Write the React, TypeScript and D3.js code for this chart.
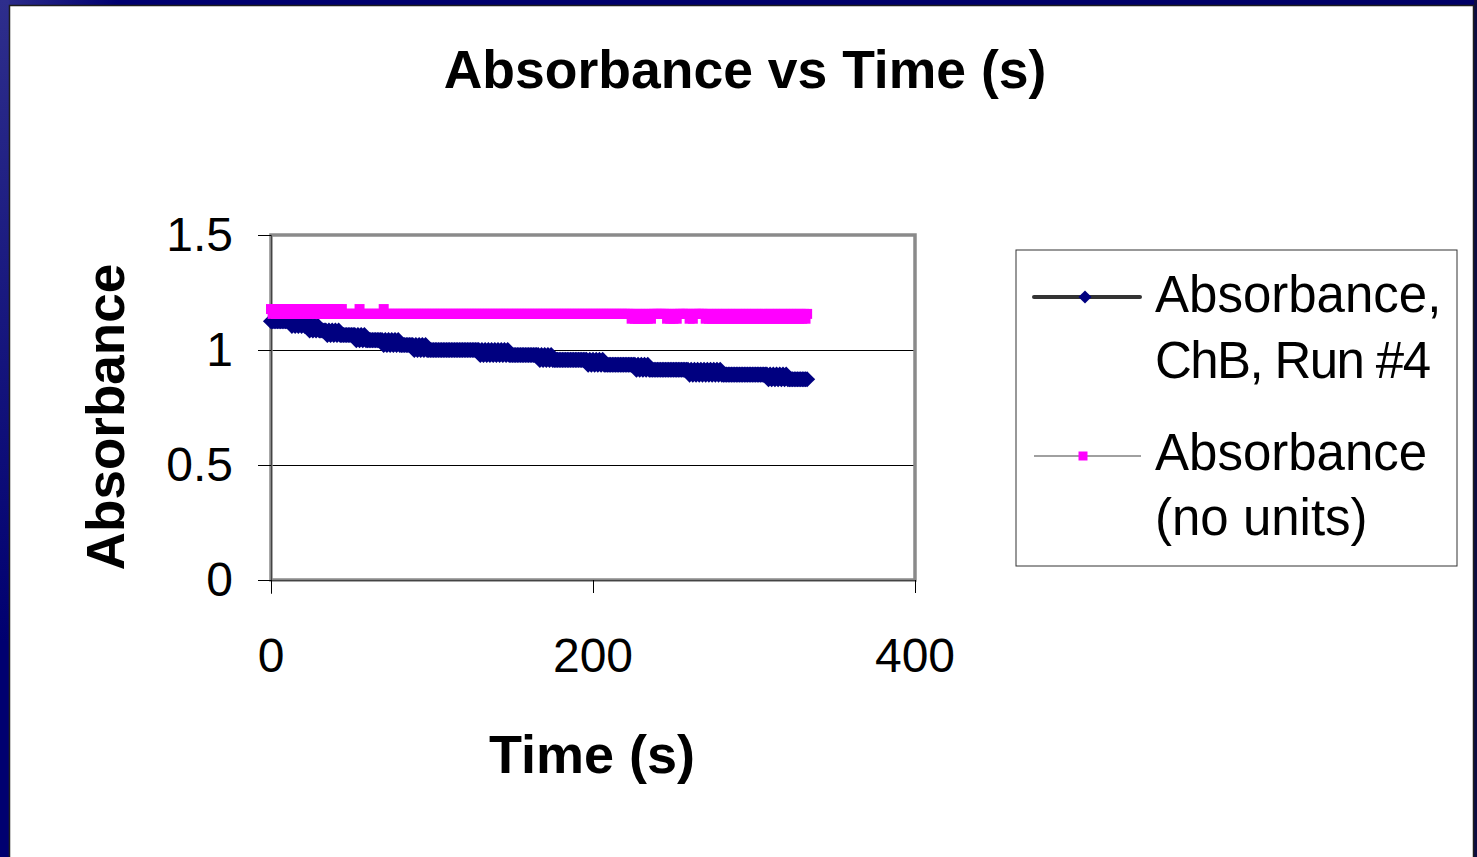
import React from 'react';
import * as d3 from 'd3';

const TITLE = 'Absorbance vs Time (s)';
const X_TITLE = 'Time (s)';
const Y_TITLE = 'Absorbance';
const X_TICKS = [0, 200, 400];
const X_TICK_LABELS = ['0', '200', '400'];
const Y_TICKS = [0, 0.5, 1, 1.5];
const Y_TICK_LABELS = ['0', '0.5', '1', '1.5'];
const GRID_VALUES = [0.5, 1];
const SERIES_1_NAME = ['Absorbance,', 'ChB, Run #4'];
const SERIES_2_NAME = ['Absorbance', '(no units)'];

// time of each reading, seconds
const timeS = [
  0, 1, 2, 3, 4, 5, 6, 7, 8, 9,
  10, 11, 12, 13, 14, 15, 16, 17, 18, 19,
  20, 21, 22, 23, 24, 25, 26, 27, 28, 29,
  30, 31, 32, 33, 34, 35, 36, 37, 38, 39,
  40, 41, 42, 43, 44, 45, 46, 47, 48, 49,
  50, 51, 52, 53, 54, 55, 56, 57, 58, 59,
  60, 61, 62, 63, 64, 65, 66, 67, 68, 69,
  70, 71, 72, 73, 74, 75, 76, 77, 78, 79,
  80, 81, 82, 83, 84, 85, 86, 87, 88, 89,
  90, 91, 92, 93, 94, 95, 96, 97, 98, 99,
  100, 101, 102, 103, 104, 105, 106, 107, 108, 109,
  110, 111, 112, 113, 114, 115, 116, 117, 118, 119,
  120, 121, 122, 123, 124, 125, 126, 127, 128, 129,
  130, 131, 132, 133, 134, 135, 136, 137, 138, 139,
  140, 141, 142, 143, 144, 145, 146, 147, 148, 149,
  150, 151, 152, 153, 154, 155, 156, 157, 158, 159,
  160, 161, 162, 163, 164, 165, 166, 167, 168, 169,
  170, 171, 172, 173, 174, 175, 176, 177, 178, 179,
  180, 181, 182, 183, 184, 185, 186, 187, 188, 189,
  190, 191, 192, 193, 194, 195, 196, 197, 198, 199,
  200, 201, 202, 203, 204, 205, 206, 207, 208, 209,
  210, 211, 212, 213, 214, 215, 216, 217, 218, 219,
  220, 221, 222, 223, 224, 225, 226, 227, 228, 229,
  230, 231, 232, 233, 234, 235, 236, 237, 238, 239,
  240, 241, 242, 243, 244, 245, 246, 247, 248, 249,
  250, 251, 252, 253, 254, 255, 256, 257, 258, 259,
  260, 261, 262, 263, 264, 265, 266, 267, 268, 269,
  270, 271, 272, 273, 274, 275, 276, 277, 278, 279,
  280, 281, 282, 283, 284, 285, 286, 287, 288, 289,
  290, 291, 292, 293, 294, 295, 296, 297, 298, 299,
  300, 301, 302, 303, 304, 305, 306, 307, 308, 309,
  310, 311, 312, 313, 314, 315, 316, 317, 318, 319,
  320, 321, 322, 323, 324, 325, 326, 327, 328, 329,
  330, 331, 332, 333,
];

const absorbanceChB = [
  1.125, 1.125, 1.125, 1.125, 1.125, 1.125, 1.125, 1.125, 1.125, 1.125,
  1.125, 1.125, 1.125, 1.105, 1.125, 1.105, 1.125, 1.105, 1.125, 1.105,
  1.125, 1.105, 1.125, 1.105, 1.085, 1.105, 1.085, 1.105, 1.085, 1.105,
  1.085, 1.085, 1.085, 1.085, 1.085, 1.065, 1.085, 1.065, 1.085, 1.065,
  1.085, 1.065, 1.085, 1.065, 1.065, 1.065, 1.065, 1.065, 1.065, 1.065,
  1.065, 1.065, 1.065, 1.043, 1.065, 1.043, 1.065, 1.043, 1.065, 1.043,
  1.043, 1.043, 1.043, 1.043, 1.043, 1.043, 1.043, 1.043, 1.043, 1.043,
  1.022, 1.043, 1.022, 1.043, 1.022, 1.043, 1.022, 1.043, 1.022, 1.043,
  1.022, 1.022, 1.022, 1.022, 1.022, 1.022, 1.022, 1.022, 1.022, 1.0,
  1.022, 1.0, 1.022, 1.0, 1.022, 1.0, 1.022, 1.0, 1.0, 1.0,
  1.0, 1.0, 1.0, 1.0, 1.0, 1.0, 1.0, 1.0, 1.0, 1.0,
  1.0, 1.0, 1.0, 1.0, 1.0, 1.0, 1.0, 1.0, 1.0, 1.0,
  1.0, 1.0, 1.0, 1.0, 1.0, 1.0, 1.0, 1.0, 1.0, 1.0,
  0.978, 1.0, 0.978, 1.0, 0.978, 1.0, 0.978, 1.0, 0.978, 1.0,
  0.978, 1.0, 0.978, 1.0, 0.978, 1.0, 0.978, 1.0, 0.978, 0.978,
  0.978, 0.978, 0.978, 0.978, 0.978, 0.978, 0.978, 0.978, 0.978, 0.978,
  0.978, 0.978, 0.978, 0.978, 0.978, 0.978, 0.978, 0.957, 0.978, 0.957,
  0.978, 0.957, 0.978, 0.957, 0.978, 0.957, 0.957, 0.957, 0.957, 0.957,
  0.957, 0.957, 0.957, 0.957, 0.957, 0.957, 0.957, 0.957, 0.957, 0.957,
  0.957, 0.957, 0.957, 0.957, 0.957, 0.957, 0.957, 0.936, 0.957, 0.936,
  0.957, 0.936, 0.957, 0.936, 0.957, 0.936, 0.957, 0.936, 0.936, 0.936,
  0.936, 0.936, 0.936, 0.936, 0.936, 0.936, 0.936, 0.936, 0.936, 0.936,
  0.936, 0.936, 0.936, 0.936, 0.936, 0.936, 0.936, 0.914, 0.936, 0.914,
  0.936, 0.914, 0.936, 0.914, 0.936, 0.914, 0.914, 0.914, 0.914, 0.914,
  0.914, 0.914, 0.914, 0.914, 0.914, 0.914, 0.914, 0.914, 0.914, 0.914,
  0.914, 0.914, 0.914, 0.914, 0.914, 0.914, 0.914, 0.914, 0.914, 0.914,
  0.893, 0.914, 0.893, 0.914, 0.893, 0.914, 0.893, 0.914, 0.893, 0.914,
  0.893, 0.914, 0.893, 0.914, 0.893, 0.914, 0.893, 0.914, 0.893, 0.914,
  0.893, 0.893, 0.893, 0.893, 0.893, 0.893, 0.893, 0.893, 0.893, 0.893,
  0.893, 0.893, 0.893, 0.893, 0.893, 0.893, 0.893, 0.893, 0.893, 0.893,
  0.893, 0.893, 0.893, 0.893, 0.893, 0.893, 0.893, 0.893, 0.893, 0.873,
  0.893, 0.873, 0.893, 0.873, 0.893, 0.873, 0.893, 0.873, 0.893, 0.873,
  0.893, 0.873, 0.873, 0.873, 0.873, 0.873, 0.873, 0.873, 0.873, 0.873,
  0.873, 0.873, 0.873, 0.873,
];

const absorbanceNoUnits = [
  1.178, 1.157, 1.178, 1.157, 1.178, 1.157, 1.178, 1.157, 1.178, 1.157,
  1.178, 1.157, 1.178, 1.157, 1.178, 1.157, 1.178, 1.157, 1.178, 1.157,
  1.178, 1.157, 1.178, 1.157, 1.178, 1.157, 1.178, 1.157, 1.178, 1.157,
  1.178, 1.157, 1.178, 1.157, 1.178, 1.157, 1.178, 1.157, 1.178, 1.157,
  1.178, 1.157, 1.178, 1.157, 1.178, 1.157, 1.157, 1.157, 1.157, 1.157,
  1.157, 1.157, 1.157, 1.157, 1.157, 1.178, 1.157, 1.157, 1.157, 1.157,
  1.157, 1.157, 1.157, 1.157, 1.157, 1.157, 1.157, 1.157, 1.157, 1.157,
  1.178, 1.157, 1.157, 1.157, 1.157, 1.157, 1.157, 1.157, 1.157, 1.157,
  1.157, 1.157, 1.157, 1.157, 1.157, 1.157, 1.157, 1.157, 1.157, 1.157,
  1.157, 1.157, 1.157, 1.157, 1.157, 1.157, 1.157, 1.157, 1.157, 1.157,
  1.157, 1.157, 1.157, 1.157, 1.157, 1.157, 1.157, 1.157, 1.157, 1.157,
  1.157, 1.157, 1.157, 1.157, 1.157, 1.157, 1.157, 1.157, 1.157, 1.157,
  1.157, 1.157, 1.157, 1.157, 1.157, 1.157, 1.157, 1.157, 1.157, 1.157,
  1.157, 1.157, 1.157, 1.157, 1.157, 1.157, 1.157, 1.157, 1.157, 1.157,
  1.157, 1.157, 1.157, 1.157, 1.157, 1.157, 1.157, 1.157, 1.157, 1.157,
  1.157, 1.157, 1.157, 1.157, 1.157, 1.157, 1.157, 1.157, 1.157, 1.157,
  1.157, 1.157, 1.157, 1.157, 1.157, 1.157, 1.157, 1.157, 1.157, 1.157,
  1.157, 1.157, 1.157, 1.157, 1.157, 1.157, 1.157, 1.157, 1.157, 1.157,
  1.157, 1.157, 1.157, 1.157, 1.157, 1.157, 1.157, 1.157, 1.157, 1.157,
  1.157, 1.157, 1.157, 1.157, 1.157, 1.157, 1.157, 1.157, 1.157, 1.157,
  1.157, 1.157, 1.157, 1.157, 1.157, 1.157, 1.157, 1.157, 1.157, 1.157,
  1.157, 1.157, 1.157, 1.157, 1.157, 1.157, 1.157, 1.157, 1.157, 1.157,
  1.157, 1.157, 1.157, 1.157, 1.136, 1.157, 1.136, 1.157, 1.136, 1.157,
  1.136, 1.157, 1.136, 1.157, 1.136, 1.157, 1.136, 1.157, 1.157, 1.157,
  1.157, 1.157, 1.157, 1.157, 1.157, 1.157, 1.136, 1.157, 1.136, 1.157,
  1.136, 1.157, 1.136, 1.157, 1.157, 1.157, 1.157, 1.157, 1.157, 1.157,
  1.136, 1.157, 1.136, 1.157, 1.157, 1.157, 1.157, 1.157, 1.157, 1.157,
  1.136, 1.157, 1.136, 1.157, 1.136, 1.157, 1.136, 1.157, 1.136, 1.157,
  1.136, 1.157, 1.136, 1.157, 1.136, 1.157, 1.136, 1.157, 1.136, 1.157,
  1.136, 1.157, 1.136, 1.157, 1.136, 1.157, 1.136, 1.157, 1.136, 1.157,
  1.136, 1.157, 1.136, 1.157, 1.136, 1.157, 1.136, 1.157, 1.136, 1.157,
  1.136, 1.157, 1.136, 1.157, 1.136, 1.157, 1.136, 1.157, 1.136, 1.157,
  1.136, 1.157, 1.136, 1.157, 1.136, 1.157, 1.136, 1.157, 1.136, 1.157,
  1.136, 1.157, 1.136, 1.157,
];

const FONT = '"Liberation Sans", Arial, Helvetica, sans-serif';
const W = 1477;
const H = 857;

export default function App() {
  const x = d3.scaleLinear().domain([0, 400]).range([271, 915]);
  const y = d3.scaleLinear().domain([0, 1.5]).range([580, 235]);

  const s1 = timeS.map((t, i) => [t, absorbanceChB[i]] as [number, number]);
  const s2 = timeS.map((t, i) => [t, absorbanceNoUnits[i]] as [number, number]);
  const line = d3.line<[number, number]>().x((d) => x(d[0])).y((d) => y(d[1]));

  // diamond2: half-diagonal = sqrt(size) * 0.62625
  const diamond = d3.symbol().type(d3.symbolDiamond2).size(165)() as string;
  const legendDiamond = d3.symbol().type(d3.symbolDiamond2).size(110)() as string;
  const square = d3.symbol().type(d3.symbolSquare).size(100)() as string;
  const legendSquare = d3.symbol().type(d3.symbolSquare).size(81)() as string;

  const [x0, x1] = x.range();
  const [yb, yt] = y.range();

  return (
    <svg
      width={W}
      height={H}
      style={{ position: 'absolute', left: 0, top: 0, display: 'block' }}
      fontFamily={FONT}
    >
      <defs>
        <linearGradient id="leftStrip" x1="0" y1="0" x2="0" y2="1">
          <stop offset="0" stopColor="#2e2e8c" />
          <stop offset="0.75" stopColor="#000070" />
          <stop offset="1" stopColor="#000070" />
        </linearGradient>
        <linearGradient id="topStrip" x1="0" y1="0" x2="1" y2="0">
          <stop offset="0" stopColor="#2e2e8c" />
          <stop offset="0.08" stopColor="#000070" />
          <stop offset="1" stopColor="#000066" />
        </linearGradient>
      </defs>
      <rect x={0} y={0} width={W} height={H} fill="#000070" />
      <rect x={0} y={0} width={W} height={6} fill="url(#topStrip)" />
      <rect x={0} y={0} width={9} height={H} fill="url(#leftStrip)" />
      <rect x={1474} y={0} width={3} height={H} fill="#0c0c40" />
      <rect x={9.5} y={5.5} width={1464} height={H + 10} fill="#ffffff" stroke="#1e1e1e" strokeWidth={1.5} />

      {/* title */}
      <text x={745} y={88} textAnchor="middle" fontSize={53.5} fontWeight="bold" fill="#000">
        {TITLE}
      </text>

      {/* gridlines */}
      {GRID_VALUES.map((v) => (
        <line key={v} x1={x0} x2={x1} y1={y(v) + 0.5} y2={y(v) + 0.5} stroke="#000" strokeWidth={1} />
      ))}

      {/* plot border */}
      <rect x={x0} y={yt} width={x1 - x0} height={yb - yt} fill="none" stroke="#8a8a8a" strokeWidth={3.5} />
      <line x1={x0 + 0.5} x2={x0 + 0.5} y1={yt} y2={yb + 14} stroke="#444" strokeWidth={1} />
      <line x1={x0} x2={x1} y1={yb + 0.5} y2={yb + 0.5} stroke="#444" strokeWidth={1} />

      {/* y ticks */}
      {Y_TICKS.map((v, i) => (
        <g key={v}>
          <line x1={x0 - 13} x2={x0} y1={y(v) + 0.5} y2={y(v) + 0.5} stroke="#000" strokeWidth={1} />
          <text x={233} y={y(v) + 16} textAnchor="end" fontSize={48} fill="#000">
            {Y_TICK_LABELS[i]}
          </text>
        </g>
      ))}

      {/* x ticks */}
      {X_TICKS.map((v, i) => (
        <g key={v}>
          <line x1={x(v) + 0.5} x2={x(v) + 0.5} y1={yb} y2={yb + 13} stroke="#000" strokeWidth={1} />
          <text x={x(v)} y={672} textAnchor="middle" fontSize={48} fill="#000">
            {X_TICK_LABELS[i]}
          </text>
        </g>
      ))}

      {/* axis titles */}
      <text x={592} y={773} textAnchor="middle" fontSize={54} fontWeight="bold" fill="#000">
        {X_TITLE}
      </text>
      <text
        transform={`translate(124,417) rotate(-90)`}
        textAnchor="middle"
        fontSize={53}
        fontWeight="bold"
        fill="#000"
      >
        {Y_TITLE}
      </text>

      {/* series 1: ChB run #4 */}
      <path d={line(s1) || ''} fill="none" stroke="#333" strokeWidth={3} />
      {s1.map((d, i) => (
        <path key={'a' + i} d={diamond} transform={`translate(${x(d[0])},${y(d[1])})`} fill="#000080" />
      ))}

      {/* series 2: no units */}
      <path d={line(s2) || ''} fill="none" stroke="#808080" strokeWidth={1} />
      {s2.map((d, i) => (
        <path key={'b' + i} d={square} transform={`translate(${x(d[0])},${y(d[1])})`} fill="#ff00ff" />
      ))}

      {/* legend */}
      <rect x={1016} y={250} width={441} height={316} fill="#fff" stroke="#333" strokeWidth={1} />
      <line x1={1034} x2={1140} y1={297} y2={297} stroke="#333" strokeWidth={4} strokeLinecap="round" />
      <path d={legendDiamond} transform="translate(1085,297)" fill="#000080" />
      <text x={1155} y={312} fontSize={51} fill="#000">{SERIES_1_NAME[0]}</text>
      <text x={1155} y={378} fontSize={51} fill="#000" textLength={276} lengthAdjust="spacing">
        {SERIES_1_NAME[1]}
      </text>

      <line x1={1034} x2={1141} y1={456} y2={456} stroke="#808080" strokeWidth={1.5} />
      <path d={legendSquare} transform="translate(1083,456)" fill="#ff00ff" />
      <text x={1155} y={470} fontSize={51} fill="#000">{SERIES_2_NAME[0]}</text>
      <text x={1155} y={535} fontSize={51} fill="#000">{SERIES_2_NAME[1]}</text>
    </svg>
  );
}
